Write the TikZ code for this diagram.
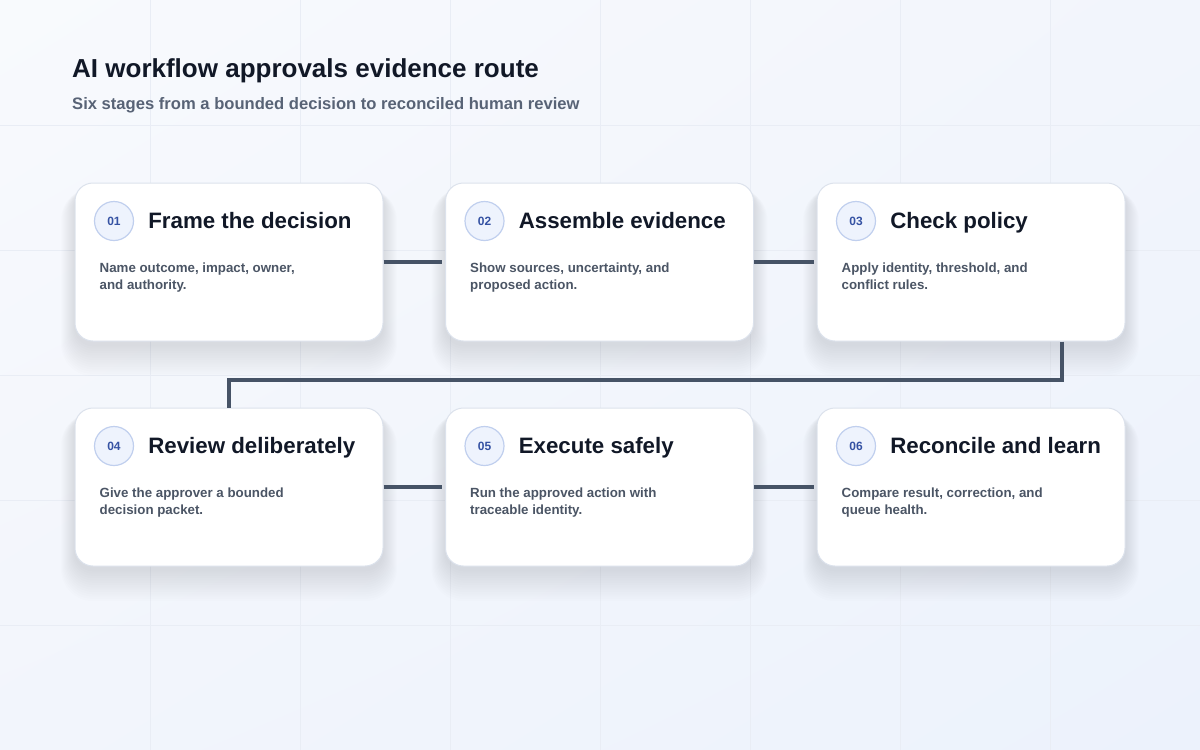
\documentclass[tikz,border=0pt]{standalone}
\usepackage{fontspec}
\setmainfont{Liberation Sans}
\usetikzlibrary{positioning,shadings}
\usepackage{xcolor}

\definecolor{bgtop}{HTML}{F8FAFD}
\definecolor{bgmid}{HTML}{F2F5FC}
\definecolor{bgbottom}{HTML}{ECF2FC}
\definecolor{gridline}{HTML}{E9EDF5}
\definecolor{cardedge}{HTML}{DCE2EC}
\definecolor{shadowcol}{HTML}{1E2A44}
\definecolor{ink}{HTML}{111827}
\definecolor{muted}{HTML}{4B5565}
\definecolor{subink}{HTML}{586376}
\definecolor{linkcol}{HTML}{465366}
\definecolor{badgefill}{HTML}{EEF3FD}
\definecolor{badgeedge}{HTML}{C0CFEE}
\definecolor{badgeink}{HTML}{3552A3}

\begin{document}
\begin{tikzpicture}[
    x=1pt, y=-1pt,
    every node/.style={inner sep=0pt},
    card/.style={
        rectangle,
        draw=cardedge,
        line width=1pt,
        fill=white,
        rounded corners=18pt,
        minimum width=308pt,
        minimum height=158pt
    },
    cardshadow/.style={fill=shadowcol, opacity=0.0075},
    badge/.style={
        circle,
        draw=badgeedge,
        line width=1.2pt,
        fill=badgefill,
        minimum size=39pt,
        text=badgeink,
        font=\bfseries\fontsize{12}{13}\selectfont
    },
    cardtitle/.style={
        text=ink,
        text height=17pt,
        text depth=2pt,
        font=\bfseries\fontsize{22.3}{26}\selectfont
    },
    carddesc/.style={
        anchor=north west,
        align=left,
        text=muted,
        font=\bfseries\fontsize{13.3}{17}\selectfont
    },
    link/.style={draw=linkcol, line width=4pt, shorten >=3pt}
]

% Background and faint grid
\useasboundingbox (0,0) rectangle (1200,750);
\shade[upper left=bgtop, upper right=bgmid, lower left=bgmid, lower right=bgbottom]
    (0,0) rectangle (1200,750);
\foreach \gx in {150,300,...,1050} {
    \draw[gridline, line width=0.6pt] (\gx,0) -- (\gx,750);
}
\foreach \gy in {125,250,...,625} {
    \draw[gridline, line width=0.6pt] (0,\gy) -- (1200,\gy);
}

% Heading
\node[anchor=base west, text=ink, font=\bfseries\fontsize{26}{30}\selectfont]
    (heading) at (72,77) {AI workflow approvals evidence route};
\node[anchor=base west, text=subink, font=\bfseries\fontsize{16.6}{20}\selectfont]
    (subheading) at (72,109) {Six stages from a bounded decision to reconciled human review};

% Stage cards
\foreach \n/\cx/\cy/\ttl/\desc in {
    1/229/262/{Frame the decision}/{Name outcome, impact, owner,\\and authority.},
    2/599.5/262/{Assemble evidence}/{Show sources, uncertainty, and\\proposed action.},
    3/971/262/{Check policy}/{Apply identity, threshold, and\\conflict rules.},
    4/229/487/{Review deliberately}/{Give the approver a bounded\\decision packet.},
    5/599.5/487/{Execute safely}/{Run the approved action with\\traceable identity.},
    6/971/487/{Reconcile and learn}/{Compare result, correction, and\\queue health.}} {
    % soft shadow, layered
    \foreach \k in {1,...,14} {
        \pgfmathsetmacro{\rc}{18+\k}
        \fill[cardshadow, rounded corners=\rc pt]
            (\cx-154-\k*1.0, \cy-74) rectangle (\cx+154+\k*1.0, \cy+82+\k*2.3);
    }
    \node[card] (c\n) at (\cx,\cy) {};
    \node[badge] (b\n) at ([shift={(39.5,38.5)}]c\n.north west) {0\n};
    \node[cardtitle, right=14pt of b\n] (t\n) {\ttl};
    \node[carddesc] (d\n) at ([shift={(25,80)}]c\n.north west) {\desc};
}

% Connectors
\draw[link] (c1.east) -- (c2.west);
\draw[link] (c2.east) -- (c3.west);
\draw[link, shorten >=0pt] ([xshift=91pt]c3.south) -- ++(0,38) -| (c4.north);
\draw[link] (c4.east) -- (c5.west);
\draw[link] (c5.east) -- (c6.west);

\end{tikzpicture}
\end{document}
